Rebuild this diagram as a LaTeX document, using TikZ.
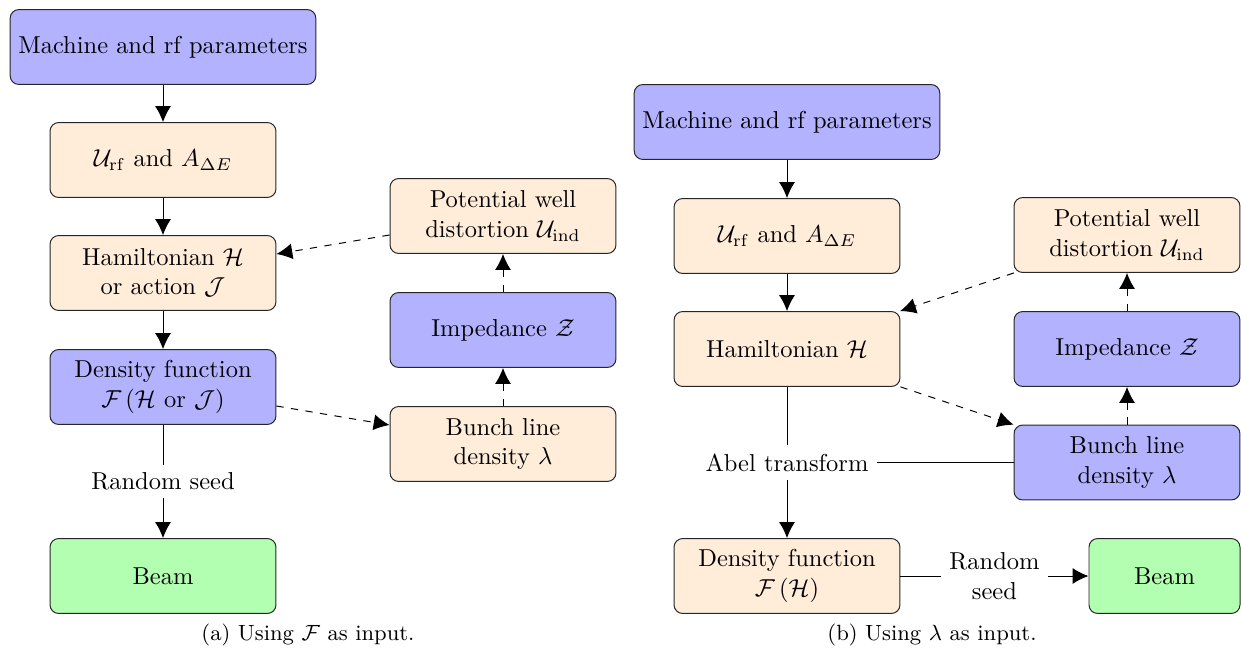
\documentclass[tikz,border=0pt]{standalone}
\usepackage{amsmath}
\usetikzlibrary{arrows.meta}
\begin{document}
\begin{tikzpicture}[x=0.4086pt,y=-0.4086pt,
  box/.style={draw=black!85, rounded corners=3.5pt, minimum width=92.3pt, minimum height=30.6pt, align=center},
  bluebox/.style={box, fill=blue!30},
  peachbox/.style={box, fill=orange!15},
  greenbox/.style={box, fill=green!30},
  conn/.style={-{Latex[length=6.5pt,width=6.5pt]}, draw=black},
  dconn/.style={conn, dashed},
  plain/.style={draw=black},
  lbl/.style={fill=white, align=center},
  captext/.style={font=\small}]
\useasboundingbox (0,0) rectangle (1241,647);
% ---------- (a) ----------
\node[bluebox]  (m1) at (163,47)  {Machine and rf parameters};
\node[peachbox] (u1) at (163,160) {$\mathcal{U}_{\mathrm{rf}}$ and $A_{\Delta E}$};
\node[peachbox] (h1) at (163,273) {Hamiltonian $\mathcal{H}$\\or action $\mathcal{J}$};
\node[bluebox]  (d1) at (163,387) {Density function\\$\mathcal{F}\left(\mathcal{H}\text{ or }\mathcal{J}\right)$};
\node[greenbox] (b1) at (163,576) {Beam};
\node[peachbox] (p1) at (503,216) {Potential well\\distortion $\mathcal{U}_{\mathrm{ind}}$};
\node[bluebox]  (z1) at (503,330) {Impedance $\mathcal{Z}$};
\node[peachbox] (l1) at (503,444) {Bunch line\\density $\lambda$};
\draw[conn] (m1) -- (u1);
\draw[conn] (u1) -- (h1);
\draw[conn] (h1) -- (d1);
\draw[conn] (d1) -- node[lbl] (rs1) {Random seed} (b1);
\draw[dconn] (p1) -- (h1);
\draw[dconn] (d1) -- (l1);
\draw[dconn] (l1) -- (z1);
\draw[dconn] (z1) -- (p1);
\node[captext] (capa) at (308,635) {(a) Using $\mathcal{F}$ as input.};
% ---------- (b) ----------
\node[bluebox]  (m2) at (787,122) {Machine and rf parameters};
\node[peachbox] (u2) at (787,236) {$\mathcal{U}_{\mathrm{rf}}$ and $A_{\Delta E}$};
\node[peachbox] (h2) at (787,349) {Hamiltonian $\mathcal{H}$};
\node[peachbox] (d2) at (787,576) {Density function\\$\mathcal{F}\left(\mathcal{H}\right)$};
\node[greenbox, minimum width=61.7pt] (b2) at (1164.5,576) {Beam};
\node[peachbox] (p2) at (1127,235) {Potential well\\distortion $\mathcal{U}_{\mathrm{ind}}$};
\node[bluebox]  (z2) at (1127,349) {Impedance $\mathcal{Z}$};
\node[bluebox]  (l2) at (1127,462.5) {Bunch line\\density $\lambda$};
\draw[conn] (m2) -- (u2);
\draw[conn] (u2) -- (h2);
\draw[conn] (h2) -- node[lbl] (abel) {Abel transform} (d2);
\draw[plain] (l2) -- (abel);
\draw[conn] (d2) -- node[lbl] (rs2) {Random\\seed} (b2);
\draw[dconn] (p2) -- (h2);
\draw[dconn] (h2) -- (l2);
\draw[dconn] (l2) -- (z2);
\draw[dconn] (z2) -- (p2);
\node[captext] (capb) at (932,635) {(b) Using $\lambda$ as input.};
\end{tikzpicture}
\end{document}
